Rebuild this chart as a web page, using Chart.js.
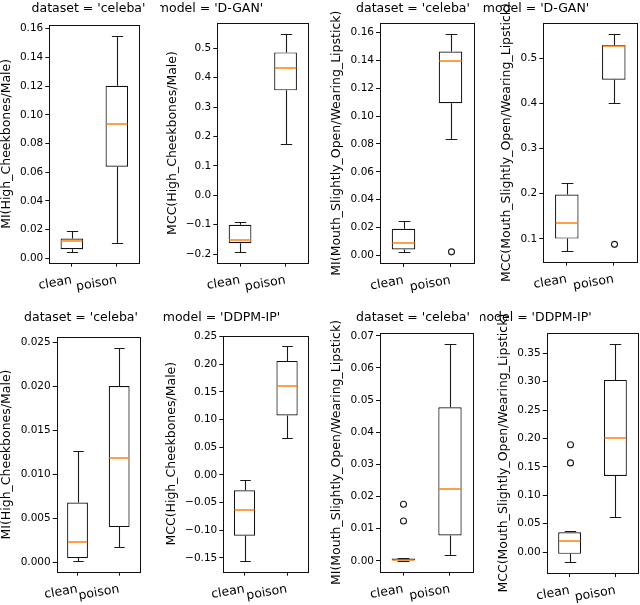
<!DOCTYPE html>
<html>
<head>
<meta charset="utf-8">
<script src="https://cdn.jsdelivr.net/npm/chart.js@4.4.1/dist/chart.umd.min.js"></script>
<style>
  html, body { margin: 0; padding: 0; background: #fff; }
  #wrap { position: relative; width: 640px; height: 605px; overflow: hidden; background: #fff; }
  .cell { position: absolute; }
</style>
</head>
<body>
<div id="wrap"></div>
<script>
const categories = ['clean', 'poison'];

// each box: [lower whisker, q1, median, q3, upper whisker]
const dganMiCheek = [[0.0044, 0.0063, 0.0120, 0.0137, 0.0190], [0.0109, 0.0638, 0.0934, 0.1203, 0.1551]];
const dganMiCheekOut = [[], []];
const dganMccCheek = [[-0.192, -0.1625, -0.151, -0.100, -0.092], [0.1735, 0.357, 0.433, 0.486, 0.548]];
const dganMccCheekOut = [[], []];
const dganMiMouth = [[0.0024, 0.0043, 0.0086, 0.0192, 0.0249], [0.0834, 0.1092, 0.1394, 0.1463, 0.1588]];
const dganMiMouthOut = [[], [0.0026]];
const dganMccMouth = [[0.0736, 0.1007, 0.136, 0.198, 0.224], [0.400, 0.452, 0.527, 0.529, 0.553]];
const dganMccMouthOut = [[], [0.088]];

const ddpmMiCheek = [[0.0001, 0.00045, 0.00223, 0.00678, 0.01269], [0.0017, 0.00398, 0.01189, 0.02004, 0.02443]];
const ddpmMiCheekOut = [[], []];
const ddpmMccCheek = [[-0.156, -0.110, -0.063, -0.028, -0.0098], [0.0669, 0.1074, 0.1612, 0.2059, 0.2319]];
const ddpmMccCheekOut = [[], []];
const ddpmMiMouth = [[0.0, 0.0, 0.0003, 0.0007, 0.0009], [0.0018, 0.0079, 0.0222, 0.0478, 0.0674]];
const ddpmMiMouthOut = [[0.0124, 0.0176], []];
const ddpmMccMouth = [[-0.0175, -0.003, 0.0193, 0.0348, 0.0366], [0.0616, 0.134, 0.201, 0.303, 0.366]];
const ddpmMccMouthOut = [[0.157, 0.189], []];

// tick labels
const ticksMiCheekDgan = ['0.00', '0.02', '0.04', '0.06', '0.08', '0.10', '0.12', '0.14', '0.16'];
const ticksMccCheekDgan = ['\u22120.2', '\u22120.1', '0.0', '0.1', '0.2', '0.3', '0.4', '0.5'];
const ticksMiMouthDgan = ['0.00', '0.02', '0.04', '0.06', '0.08', '0.10', '0.12', '0.14', '0.16'];
const ticksMccMouthDgan = ['0.1', '0.2', '0.3', '0.4', '0.5'];
const ticksMiCheekDdpm = ['0.000', '0.005', '0.010', '0.015', '0.020', '0.025'];
const ticksMccCheekDdpm = ['\u22120.15', '\u22120.10', '\u22120.05', '0.00', '0.05', '0.10', '0.15', '0.20', '0.25'];
const ticksMiMouthDdpm = ['0.00', '0.01', '0.02', '0.03', '0.04', '0.05', '0.06', '0.07'];
const ticksMccMouthDdpm = ['0.00', '0.05', '0.10', '0.15', '0.20', '0.25', '0.30', '0.35'];

// y limits
const rangeMiCheekDgan = [-0.0031, 0.1626];
const rangeMccCheekDgan = [-0.229, 0.585];
const rangeMiMouthDgan = [-0.0054, 0.1666];
const rangeMccMouthDgan = [0.0496, 0.577];
const rangeMiCheekDdpm = [-0.0011, 0.0256];
const rangeMccCheekDdpm = [-0.175, 0.2514];
const rangeMiMouthDdpm = [-0.0034, 0.0708];
const rangeMccMouthDdpm = [-0.0367, 0.385];

const FONT = '"DejaVu Sans", sans-serif';
const Y_W = 40;
const X_H = 30;

const panels = [
  { stats: dganMiCheek, out: dganMiCheekOut, ticks: ticksMiCheekDgan, range: rangeMiCheekDgan,
    title: "dataset = 'celeba'", ylabel: 'MI(High_Cheekbones/Male)',
    cell: [0, 0, 160, 300], area: [49.3, 25, 139.3, 262.7], titleAt: [88.5, 9] },
  { stats: dganMccCheek, out: dganMccCheekOut, ticks: ticksMccCheekDgan, range: rangeMccCheekDgan,
    title: "model = 'D-GAN'", ylabel: 'MCC(High_Cheekbones/Male)',
    cell: [160, 0, 160, 300], area: [217.3, 23.3, 308.3, 262.7], titleAt: [210, 9] },
  { stats: dganMiMouth, out: dganMiMouthOut, ticks: ticksMiMouthDgan, range: rangeMiMouthDgan,
    title: "dataset = 'celeba'", ylabel: 'MI(Mouth_Slightly_Open/Wearing_Lipstick)',
    cell: [320, 0, 160, 300], area: [380, 23.3, 474, 263], titleAt: [413, 9] },
  { stats: dganMccMouth, out: dganMccMouthOut, ticks: ticksMccMouthDgan, range: rangeMccMouthDgan,
    title: "model = 'D-GAN'", ylabel: 'MCC(Mouth_Slightly_Open/Wearing_Lipstick)',
    cell: [480, 0, 160, 300], area: [543.3, 23.3, 637.3, 261.7], titleAt: [536, 9] },
  { stats: ddpmMiCheek, out: ddpmMiCheekOut, ticks: ticksMiCheekDdpm, range: rangeMiCheekDdpm,
    title: "dataset = 'celeba'", ylabel: 'MI(High_Cheekbones/Male)',
    cell: [0, 300, 160, 305], area: [56.7, 337.3, 140, 571.7], titleAt: [81, 318] },
  { stats: ddpmMccCheek, out: ddpmMccCheekOut, ticks: ticksMccCheekDdpm, range: rangeMccCheekDdpm,
    title: "model = 'DDPM-IP'", ylabel: 'MCC(High_Cheekbones/Male)',
    cell: [160, 300, 160, 305], area: [223.3, 335.7, 308.3, 571.7], titleAt: [221.5, 318] },
  { stats: ddpmMiMouth, out: ddpmMiMouthOut, ticks: ticksMiMouthDdpm, range: rangeMiMouthDdpm,
    title: "dataset = 'celeba'", ylabel: 'MI(Mouth_Slightly_Open/Wearing_Lipstick)',
    cell: [320, 300, 160, 305], area: [380, 333.3, 473.3, 571.7], titleAt: [413, 318] },
  { stats: ddpmMccMouth, out: ddpmMccMouthOut, ticks: ticksMccMouthDdpm, range: rangeMccMouthDdpm,
    title: "model = 'DDPM-IP'", ylabel: 'MCC(Mouth_Slightly_Open/Wearing_Lipstick)',
    cell: [480, 300, 160, 305], area: [546.7, 333.3, 638.3, 573], titleAt: [533, 318] }
];

const toNum = s => parseFloat(s.replace('\u2212', '-'));
const snap = v => Math.round(v) + 0.5;

// whiskers, caps, medians, fliers, frame and texts
const boxExtras = {
  id: 'boxExtras',
  afterDatasetsDraw(chart, args, o) {
    const { ctx, scales: { x, y } } = chart;
    const bars = chart.getDatasetMeta(0).data;
    ctx.save();
    o.stats.forEach((s, i) => {
      const cx = snap(x.getPixelForValue(i));
      const bw = bars[i].width;
      const [lo, q1, med, q3, hi] = s.map(v => y.getPixelForValue(v));
      ctx.strokeStyle = '#1a1a1a';
      ctx.lineWidth = 1.1;
      ctx.beginPath();
      ctx.moveTo(cx, q1); ctx.lineTo(cx, snap(lo));
      ctx.moveTo(cx, q3); ctx.lineTo(cx, snap(hi));
      ctx.moveTo(cx - bw / 4, snap(lo)); ctx.lineTo(cx + bw / 4, snap(lo));
      ctx.moveTo(cx - bw / 4, snap(hi)); ctx.lineTo(cx + bw / 4, snap(hi));
      ctx.stroke();
      ctx.strokeStyle = '#ff7f0e';
      ctx.lineWidth = 1.5;
      ctx.beginPath();
      ctx.moveTo(bars[i].x - bw / 2 + 0.6, Math.round(med)); ctx.lineTo(bars[i].x + bw / 2 - 0.6, Math.round(med));
      ctx.stroke();
      ctx.strokeStyle = '#1a1a1a';
      ctx.lineWidth = 1.1;
      o.out[i].forEach(v => {
        ctx.beginPath();
        ctx.arc(cx, y.getPixelForValue(v), 3, 0, Math.PI * 2);
        ctx.stroke();
      });
    });
    ctx.restore();
  },
  afterDraw(chart, args, o) {
    const { ctx, chartArea: a } = chart;
    ctx.save();
    ctx.strokeStyle = '#111';
    ctx.lineWidth = 1;
    ctx.strokeRect(Math.round(a.left) + 0.5, Math.round(a.top) + 0.5,
      Math.round(a.right) - Math.round(a.left), Math.round(a.bottom) - Math.round(a.top));

    ctx.fillStyle = '#000';
    ctx.font = '12.5px ' + FONT;
    ctx.textAlign = 'center';
    ctx.textBaseline = 'middle';
    ctx.fillText(o.title, o.titleAt[0] - o.cell[0], o.titleAt[1] - o.cell[1]);

    ctx.font = '10.5px ' + FONT;
    const widest = Math.max(...o.ticks.map(t => ctx.measureText(t).width));
    const lx = a.left - 4 - 2 - widest - 13.5;
    ctx.font = '12.5px ' + FONT;
    ctx.translate(lx, (a.top + a.bottom) / 2);
    ctx.rotate(-Math.PI / 2);
    ctx.fillText(o.ylabel, 0, 0);
    ctx.restore();
  }
};

const wrap = document.getElementById('wrap');

panels.forEach(p => {
  const cv = document.createElement('canvas');
  cv.className = 'cell';
  cv.width = p.cell[2];
  cv.height = p.cell[3];
  cv.style.left = p.cell[0] + 'px';
  cv.style.top = p.cell[1] + 'px';
  wrap.appendChild(cv);

  const pad = {
    left: p.area[0] - p.cell[0] - Y_W,
    right: p.cell[0] + p.cell[2] - p.area[2],
    top: p.area[1] - p.cell[1],
    bottom: p.cell[1] + p.cell[3] - p.area[3] - X_H
  };

  new Chart(cv, {
    type: 'bar',
    data: {
      labels: categories,
      datasets: [{
        data: p.stats.map(s => [s[1], s[3]]),
        backgroundColor: '#fff',
        borderColor: '#111',
        borderWidth: 1.2,
        borderSkipped: false,
        categoryPercentage: 1,
        barPercentage: 0.5
      }]
    },
    options: {
      responsive: false,
      animation: false,
      layout: { padding: pad },
      plugins: {
        legend: { display: false },
        tooltip: { enabled: false },
        boxExtras: { stats: p.stats, out: p.out, title: p.title, titleAt: p.titleAt,
                     cell: p.cell, ylabel: p.ylabel, ticks: p.ticks }
      },
      scales: {
        x: {
          offset: true,
          grid: { offset: false, drawOnChartArea: false, tickLength: 4, tickColor: '#111' },
          border: { display: false },
          ticks: { font: { family: FONT, size: 12.5 }, color: '#000', minRotation: 10, maxRotation: 10,
                   padding: 6, autoSkip: false },
          afterFit: s => { s.height = X_H; }
        },
        y: {
          min: p.range[0],
          max: p.range[1],
          bounds: 'data',
          grid: { drawOnChartArea: false, tickLength: 4, tickColor: '#111' },
          border: { display: false },
          ticks: { font: { family: FONT, size: 10.5 }, color: '#000', padding: 2, autoSkip: false,
                   callback: (v, i) => p.ticks[i] },
          afterBuildTicks: s => { s.ticks = p.ticks.map(t => ({ value: toNum(t) })); },
          afterFit: s => { s.width = Y_W; }
        }
      }
    },
    plugins: [boxExtras]
  });
});
</script>
</body>
</html>
